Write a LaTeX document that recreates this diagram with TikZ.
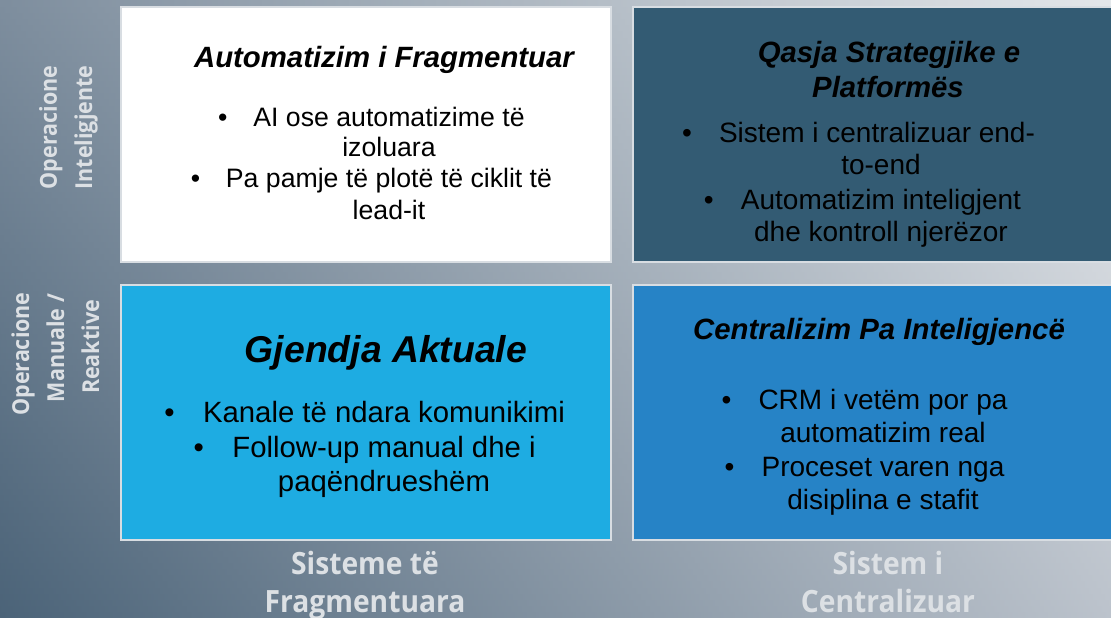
\documentclass[tikz,border=0pt]{standalone}
\usepackage{fontspec}
\setmainfont{Liberation Sans}
\newfontfamily\axisfont[FakeStretch=0.92]{Open Sans}
\definecolor{bgBL}{HTML}{4B6378}
\definecolor{bgTL}{HTML}{7E8E9E}
\definecolor{bgBR}{HTML}{BCC3CC}
\definecolor{bgTR}{HTML}{E4E7EA}
\definecolor{boxline}{HTML}{D8DDE2}
\definecolor{topright}{HTML}{335B73}
\definecolor{botleft}{HTML}{1EACE2}
\definecolor{botright}{HTML}{2683C6}
\definecolor{axistext}{HTML}{DCE0E4}
\newcommand{\qbul}{\llap{\textbullet\hspace{0.97em}}}
\begin{document}
\begin{tikzpicture}[x=0.75pt,y=0.75pt,
  quad/.style={draw=boxline, line width=1.5pt, minimum width=367.5pt, minimum height=191.25pt, inner sep=0pt, outer sep=0pt},
  ttl/.style={anchor=base, font=\fontsize{22}{26}\selectfont\bfseries\itshape, text=black, inner sep=0pt},
  txt/.style={anchor=base, text=black, inner sep=0pt},
  axisv/.style={anchor=base, rotate=90, font=\axisfont\bfseries\fontsize{17.5}{20}\selectfont, text=axistext, inner sep=0pt},
  axish/.style={anchor=base, font=\axisfont\bfseries\fontsize{23}{26}\selectfont, text=axistext, inner sep=0pt}]
\useasboundingbox (0,0) rectangle (1111,618);
\clip (0,0) rectangle (1111,618);
\foreach \i in {0,...,99}{
  \pgfmathsetmacro{\ya}{\i*6.18}
  \pgfmathsetmacro{\yb}{(\i+1)*6.18+0.6}
  \colorlet{lc}{bgTL!\i!bgBL}
  \colorlet{rc}{bgTR!\i!bgBR}
  \shade[left color=lc, right color=rc] (0,\ya) rectangle (1111,\yb);
}
% quadrants
\node[quad, fill=white] (tl) at (366,483.5) {};
\node[quad, fill=topright] (tr) at (878,483.5) {};
\node[quad, fill=botleft] (bl) at (366,205.5) {};
\node[quad, fill=botright] (br) at (878,205.5) {};
% top-left
\node[ttl] (tlt) at (384,550) {Automatizim i Fragmentuar};
\begin{scope}[font=\fontsize{20}{24}\selectfont]
\node[txt] (tl1) at (389,491) {\qbul AI ose automatizime të};
\node[txt] (tl2) at (389,461) {izoluara};
\node[txt] (tl3) at (389,430) {\qbul Pa pamje të plotë të ciklit të};
\node[txt] (tl4) at (389,398) {lead-it};
\end{scope}
% top-right
\node[ttl] (trt1) at (889,555) {Qasja Strategjike e};
\node[ttl] (trt2) at (888,520) {Platformës};
\begin{scope}[font=\fontsize{21}{25}\selectfont]
\node[txt] (tr1) at (877,475) {\qbul Sistem i centralizuar end-};
\node[txt] (tr2) at (881,443) {to-end};
\node[txt] (tr3) at (881,408) {\qbul Automatizim inteligjent};
\node[txt] (tr4) at (881,376) {dhe kontroll njerëzor};
\end{scope}
% bottom-left
\node[ttl, font=\fontsize{28}{32}\selectfont\bfseries\itshape] (blt) at (386,255) {Gjendja Aktuale};
\begin{scope}[font=\fontsize{22}{26}\selectfont]
\node[txt] (bl1) at (384,195) {\qbul Kanale të ndara komunikimi};
\node[txt] (bl2) at (384,160) {\qbul Follow-up manual dhe i};
\node[txt] (bl3) at (384,126) {paqëndrueshëm};
\end{scope}
% bottom-right
\node[ttl] (brt) at (879,278) {Centralizim Pa Inteligjencë};
\begin{scope}[font=\fontsize{21}{25}\selectfont]
\node[txt] (br1) at (883,208) {\qbul CRM i vetëm por pa};
\node[txt] (br2) at (883,175) {automatizim real};
\node[txt] (br3) at (883,141) {\qbul Proceset varen nga};
\node[txt] (br4) at (883,108) {disiplina e stafit};
\end{scope}
% axis labels
\node[axisv] (yh1) at (57,490.5) {Operacione};
\node[axisv] (yh2) at (92,490.5) {Inteligjente};
\node[axisv] (yl1) at (29,264) {Operacione};
\node[axisv] (yl2) at (64,270) {Manuale /};
\node[axisv] (yl3) at (99,271) {Reaktive};
\node[axish] (xl1) at (365,43) {Sisteme të};
\node[axish] (xl2) at (365,5) {Fragmentuara};
\node[axish] (xr1) at (888,43) {Sistem i};
\node[axish] (xr2) at (888,5) {Centralizuar};
\end{tikzpicture}
\end{document}
